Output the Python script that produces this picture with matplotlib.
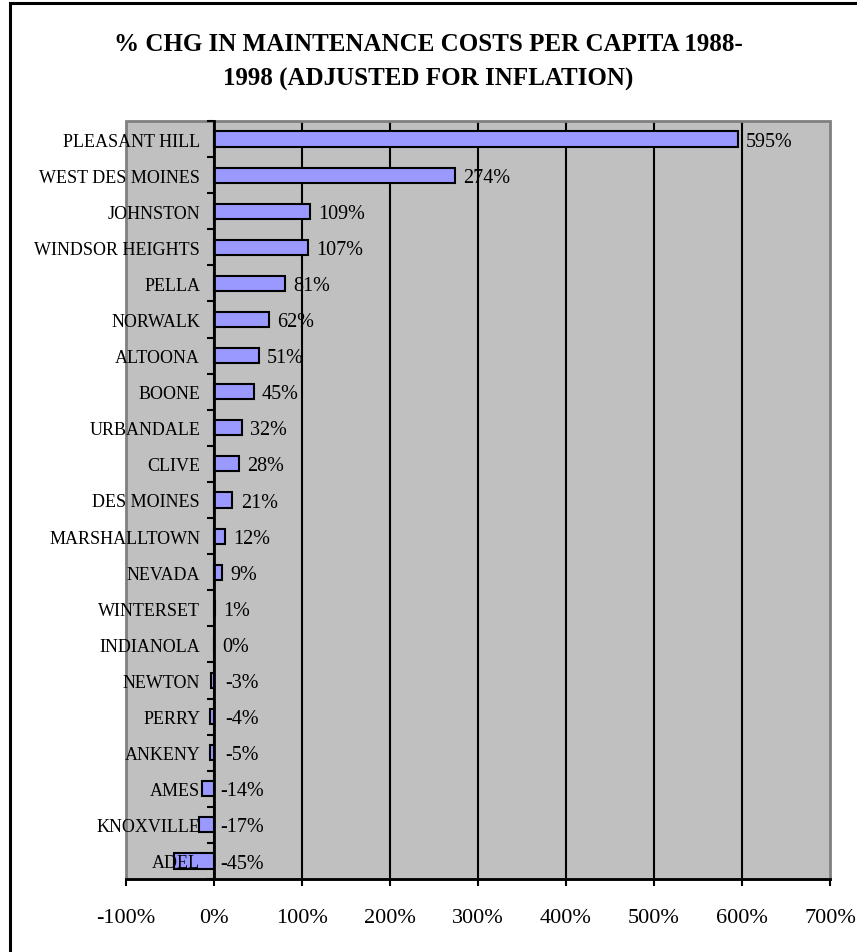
import numpy as np
import matplotlib
matplotlib.use("Agg")
import matplotlib.pyplot as plt
from matplotlib.patches import Rectangle

plt.rcParams['font.family'] = ['Liberation Serif', 'DejaVu Serif']

# data
cities = ["PLEASANT HILL", "WEST DES MOINES", "JOHNSTON", "WINDSOR HEIGHTS",
          "PELLA", "NORWALK", "ALTOONA", "BOONE", "URBANDALE", "CLIVE",
          "DES MOINES", "MARSHALLTOWN", "NEVADA", "WINTERSET", "INDIANOLA",
          "NEWTON", "PERRY", "ANKENY", "AMES", "KNOXVILLE", "ADEL"]
pct_chg = [595, 274, 109, 107, 81, 62, 51, 45, 32, 28, 21, 12, 9, 1, 0,
           -3, -4, -5, -14, -17, -45]
xticks = [-100, 0, 100, 200, 300, 400, 500, 600, 700]
title = "% CHG IN MAINTENANCE COSTS PER CAPITA 1988-\n1998 (ADJUSTED FOR INFLATION)"

fig = plt.figure(figsize=(8.57, 9.53), dpi=100)
ax = fig.add_axes([126/857, 73/953, 704/857, 758/953])

# outer chart frame (runs off the right and bottom edges)
fig.patches.append(Rectangle((10/857, -0.2), 1.2, 1.2 - 4/953,
                             transform=fig.transFigure, fill=False,
                             edgecolor='black', linewidth=2.2, zorder=0))

ax.set_facecolor('#C0C0C0')
pos = np.arange(len(cities))
ax.barh(pos, pct_chg, height=0.42, color='#9999FF', edgecolor='black',
        linewidth=1.5, zorder=3)

for t in xticks[1:-1]:
    ax.axvline(t, color='black', linewidth=1.5, zorder=1)

ax.set_xlim(xticks[0], xticks[-1])
ax.set_ylim(len(cities) - 0.5, -0.5)

# plot area border
ax.add_patch(Rectangle((0, 0), 1, 1, transform=ax.transAxes, fill=False,
                       edgecolor='#808080', linewidth=2, zorder=2, clip_on=False))
for s in ['top', 'right']:
    ax.spines[s].set_visible(False)
ax.spines['bottom'].set_color('black')
ax.spines['bottom'].set_linewidth(2)
ax.spines['bottom'].set_zorder(4)
ax.spines['left'].set_position(('data', 0))
ax.spines['left'].set_color('black')
ax.spines['left'].set_linewidth(2)
ax.spines['left'].set_zorder(4)

ax.set_xticks(xticks)
ax.set_xticklabels([f"{t}%" for t in xticks], fontsize=16)
ax.tick_params(axis='x', direction='out', length=5, width=1.5, pad=16)

ax.set_yticks(pos)
ax.set_yticklabels(cities, fontsize=13, va='center_baseline')
ax.set_yticks(np.arange(len(cities) + 1) - 0.5, minor=True)
ax.tick_params(axis='y', which='major', length=0, pad=10)
ax.tick_params(axis='y', which='minor', direction='out', length=5, width=1.5)
ax.yaxis.set_zorder(6)
ax.xaxis.set_zorder(6)

for y, v in zip(pos, pct_chg):
    if v >= 0:
        ax.annotate(f"{v}%", (v, y), xytext=(6, -1.5), textcoords='offset points',
                    ha='left', va='center', fontsize=14.5, zorder=5)
    else:
        ax.annotate(f"{v}%", (0, y), xytext=(20, -1.5), textcoords='offset points',
                    ha='center', va='center', fontsize=14.5, zorder=5)

fig.text(0.5, 1 - 62/953, title, ha='center', va='center', fontsize=18,
         fontweight='bold', linespacing=1.65)

fig.savefig("out.png", dpi=100)
